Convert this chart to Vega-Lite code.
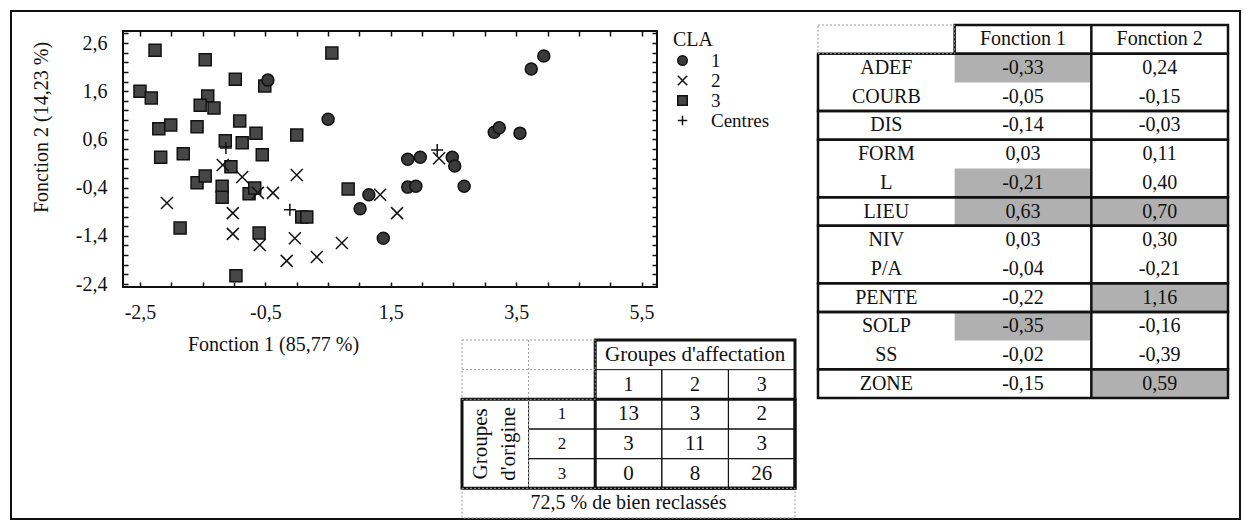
{
  "$schema": "https://vega.github.io/schema/vega-lite/v6.json",
  "width": 1229,
  "height": 508,
  "autosize": {"type": "none"},
  "padding": {"left": 11, "top": 11, "right": 6, "bottom": 6},
  "background": "white",
  "config": {
    "view": {"stroke": "#111", "strokeWidth": 2},
    "font": "Liberation Serif",
    "locale": {"number": {"decimal": ",", "thousands": " ", "grouping": [3], "currency": ["", " €"], "minus": "-"}},
    "axis": {"labelFont": "Liberation Serif", "titleFont": "Liberation Serif", "labelColor": "#111", "titleColor": "#111", "labelFontSize": 20, "titleFontSize": 20, "titleFontWeight": "normal", "grid": false, "domain": false, "tickColor": "#111", "tickWidth": 1.5, "tickSize": -5, "labelOverlap": false, "labelFlush": false},
    "legend": {"orient": "none", "legendX": 662, "legendY": 19, "padding": 0, "symbolSize": 90, "symbolStrokeColor": "#111", "symbolStrokeWidth": 1.5, "labelOffset": 19, "rowPadding": 0, "titlePadding": 1, "labelFontSize": 19, "titleFontSize": 20, "labelFont": "Liberation Serif", "titleFont": "Liberation Serif", "titleFontWeight": "normal", "labelColor": "#111", "titleColor": "#111"}
  },
  "datasets": {
    "points": [
      {"CLA": "3", "f1": -2.26, "f2": 2.45}, {"CLA": "3", "f1": -1.46, "f2": 2.25}, {"CLA": "3", "f1": 0.56, "f2": 2.39},
      {"CLA": "3", "f1": -0.98, "f2": 1.85}, {"CLA": "3", "f1": -0.51, "f2": 1.71}, {"CLA": "3", "f1": -2.5, "f2": 1.6},
      {"CLA": "3", "f1": -2.32, "f2": 1.46}, {"CLA": "3", "f1": -1.42, "f2": 1.5}, {"CLA": "3", "f1": -1.54, "f2": 1.31},
      {"CLA": "3", "f1": -1.32, "f2": 1.25}, {"CLA": "3", "f1": -2.2, "f2": 0.82}, {"CLA": "3", "f1": -2.01, "f2": 0.9},
      {"CLA": "3", "f1": -1.59, "f2": 0.86}, {"CLA": "3", "f1": -0.91, "f2": 0.98}, {"CLA": "3", "f1": -0.65, "f2": 0.73},
      {"CLA": "3", "f1": 0.0, "f2": 0.69}, {"CLA": "3", "f1": -1.14, "f2": 0.57}, {"CLA": "3", "f1": -0.87, "f2": 0.53},
      {"CLA": "3", "f1": -2.17, "f2": 0.23}, {"CLA": "3", "f1": -1.81, "f2": 0.3}, {"CLA": "3", "f1": -0.55, "f2": 0.28},
      {"CLA": "3", "f1": -1.05, "f2": 0.03}, {"CLA": "3", "f1": -1.59, "f2": -0.3}, {"CLA": "3", "f1": -1.46, "f2": -0.16},
      {"CLA": "3", "f1": -1.19, "f2": -0.37}, {"CLA": "3", "f1": -1.19, "f2": -0.6}, {"CLA": "3", "f1": -0.76, "f2": -0.53},
      {"CLA": "3", "f1": -0.67, "f2": -0.41}, {"CLA": "3", "f1": 0.08, "f2": -1.01}, {"CLA": "3", "f1": 0.16, "f2": -1.01},
      {"CLA": "3", "f1": -1.86, "f2": -1.24}, {"CLA": "3", "f1": -0.6, "f2": -1.34}, {"CLA": "3", "f1": 0.82, "f2": -0.43},
      {"CLA": "3", "f1": -0.97, "f2": -2.23},
      {"CLA": "2", "f1": -1.18, "f2": 0.07}, {"CLA": "2", "f1": -0.87, "f2": -0.18}, {"CLA": "2", "f1": 0.0, "f2": -0.14},
      {"CLA": "2", "f1": -0.62, "f2": -0.51}, {"CLA": "2", "f1": -0.38, "f2": -0.51}, {"CLA": "2", "f1": -2.07, "f2": -0.72},
      {"CLA": "2", "f1": -1.02, "f2": -0.93}, {"CLA": "2", "f1": -1.02, "f2": -1.36}, {"CLA": "2", "f1": -0.59, "f2": -1.59},
      {"CLA": "2", "f1": -0.03, "f2": -1.45}, {"CLA": "2", "f1": -0.16, "f2": -1.92}, {"CLA": "2", "f1": 0.32, "f2": -1.84},
      {"CLA": "2", "f1": 0.72, "f2": -1.55}, {"CLA": "2", "f1": 1.33, "f2": -0.55}, {"CLA": "2", "f1": 1.6, "f2": -0.93},
      {"CLA": "2", "f1": 2.27, "f2": 0.21},
      {"CLA": "1", "f1": -0.46, "f2": 1.83}, {"CLA": "1", "f1": 0.5, "f2": 1.02}, {"CLA": "1", "f1": 3.94, "f2": 2.33},
      {"CLA": "1", "f1": 3.74, "f2": 2.06}, {"CLA": "1", "f1": 3.15, "f2": 0.75}, {"CLA": "1", "f1": 3.23, "f2": 0.84},
      {"CLA": "1", "f1": 3.56, "f2": 0.73}, {"CLA": "1", "f1": 1.77, "f2": 0.19}, {"CLA": "1", "f1": 1.97, "f2": 0.23},
      {"CLA": "1", "f1": 2.48, "f2": 0.23}, {"CLA": "1", "f1": 2.52, "f2": 0.05}, {"CLA": "1", "f1": 1.15, "f2": -0.55},
      {"CLA": "1", "f1": 1.01, "f2": -0.84}, {"CLA": "1", "f1": 1.77, "f2": -0.39}, {"CLA": "1", "f1": 1.9, "f2": -0.37},
      {"CLA": "1", "f1": 2.67, "f2": -0.37}, {"CLA": "1", "f1": 1.38, "f2": -1.45},
      {"CLA": "Centres", "f1": 2.24, "f2": 0.38}, {"CLA": "Centres", "f1": -0.11, "f2": -0.86}, {"CLA": "Centres", "f1": -1.13, "f2": 0.42}
    ],
    "coef": [
      {"var": "ADEF", "fonction": "Fonction 1", "coef": -0.33, "marque": true}, {"var": "ADEF", "fonction": "Fonction 2", "coef": 0.24, "marque": false},
      {"var": "COURB", "fonction": "Fonction 1", "coef": -0.05, "marque": false}, {"var": "COURB", "fonction": "Fonction 2", "coef": -0.15, "marque": false},
      {"var": "DIS", "fonction": "Fonction 1", "coef": -0.14, "marque": false}, {"var": "DIS", "fonction": "Fonction 2", "coef": -0.03, "marque": false},
      {"var": "FORM", "fonction": "Fonction 1", "coef": 0.03, "marque": false}, {"var": "FORM", "fonction": "Fonction 2", "coef": 0.11, "marque": false},
      {"var": "L", "fonction": "Fonction 1", "coef": -0.21, "marque": true}, {"var": "L", "fonction": "Fonction 2", "coef": 0.4, "marque": false},
      {"var": "LIEU", "fonction": "Fonction 1", "coef": 0.63, "marque": true}, {"var": "LIEU", "fonction": "Fonction 2", "coef": 0.7, "marque": true},
      {"var": "NIV", "fonction": "Fonction 1", "coef": 0.03, "marque": false}, {"var": "NIV", "fonction": "Fonction 2", "coef": 0.3, "marque": false},
      {"var": "P/A", "fonction": "Fonction 1", "coef": -0.04, "marque": false}, {"var": "P/A", "fonction": "Fonction 2", "coef": -0.21, "marque": false},
      {"var": "PENTE", "fonction": "Fonction 1", "coef": -0.22, "marque": false}, {"var": "PENTE", "fonction": "Fonction 2", "coef": 1.16, "marque": true},
      {"var": "SOLP", "fonction": "Fonction 1", "coef": -0.35, "marque": true}, {"var": "SOLP", "fonction": "Fonction 2", "coef": -0.16, "marque": false},
      {"var": "SS", "fonction": "Fonction 1", "coef": -0.02, "marque": false}, {"var": "SS", "fonction": "Fonction 2", "coef": -0.39, "marque": false},
      {"var": "ZONE", "fonction": "Fonction 1", "coef": -0.15, "marque": false}, {"var": "ZONE", "fonction": "Fonction 2", "coef": 0.59, "marque": true}
    ],
    "blocs": [
      {"debut": "ADEF", "fin": "COURB"}, {"debut": "DIS", "fin": "DIS"}, {"debut": "FORM", "fin": "L"}, {"debut": "LIEU", "fin": "LIEU"},
      {"debut": "NIV", "fin": "P/A"}, {"debut": "PENTE", "fin": "PENTE"}, {"debut": "SOLP", "fin": "SS"}, {"debut": "ZONE", "fin": "ZONE"}
    ],
    "confusion": [
      {"origine": "1", "affectation": "1", "n": 13}, {"origine": "1", "affectation": "2", "n": 3}, {"origine": "1", "affectation": "3", "n": 2},
      {"origine": "2", "affectation": "1", "n": 3}, {"origine": "2", "affectation": "2", "n": 11}, {"origine": "2", "affectation": "3", "n": 3},
      {"origine": "3", "affectation": "1", "n": 0}, {"origine": "3", "affectation": "2", "n": 8}, {"origine": "3", "affectation": "3", "n": 26}
    ]
  },
  "layer": [
    {
      "data": {"name": "points"},
      "layer": [
        {
          "mark": {"type": "point", "filled": true, "opacity": 1, "size": 144, "strokeWidth": 1.5},
          "encoding": {
            "x": {"field": "f1", "type": "quantitative", "scale": {"domain": [-4.5574, 15.0439], "nice": false, "zero": false},
              "axis": {"orient": "bottom", "offset": -232, "values": [-2.5, -2, -1.5, -1, -0.5, 0, 0.5, 1, 1.5, 2, 2.5, 3, 3.5, 4, 4.5, 5, 5.5], "format": ".1f",
                "labelExpr": "indexof([-2.5, -0.5, 1.5, 3.5, 5.5], datum.value) >= 0 ? datum.label : ''", "labelPadding": 20,
                "title": "Fonction 1 (85,77 %)", "titleX": 262, "titleY": 57, "titleBaseline": "middle", "titleAlign": "center"}},
            "y": {"field": "f2", "type": "quantitative", "scale": {"domain": [-7.2755, 3.2639], "nice": false, "zero": false},
              "axis": {"orient": "left", "offset": -112, "values": [-2.4, -2.2, -2, -1.8, -1.6, -1.4, -1.2, -1, -0.8, -0.6, -0.4, -0.2, 0, 0.2, 0.4, 0.6, 0.8, 1, 1.2, 1.4, 1.6, 1.8, 2, 2.2, 2.4, 2.6, 2.8], "format": ".1f",
                "labelExpr": "indexof([-2.4, -1.4, -0.4, 0.6, 1.6, 2.6], datum.value) >= 0 ? datum.label : ''", "labelPadding": 21,
                "title": "Fonction 2 (14,23 %)", "titleX": -82, "titleY": 116, "titleAngle": 270, "titleBaseline": "middle", "titleAlign": "center"}},
            "shape": {"field": "CLA", "type": "nominal", "title": "CLA",
              "scale": {"domain": ["1", "2", "3", "Centres"], "range": ["circle", "M-1,-1L1,1M-1,1L1,-1", "square", "M0,-1L0,1M-1,0L1,0"]}},
            "fill": {"field": "CLA", "type": "nominal", "title": "CLA",
              "scale": {"domain": ["1", "2", "3", "Centres"], "range": ["#3a3a3a", "transparent", "#474747", "transparent"]}},
            "stroke": {"field": "CLA", "type": "nominal", "title": "CLA",
              "scale": {"domain": ["1", "2", "3", "Centres"], "range": ["#111", "#111", "#111", "#111"]}}
          }
        },
        {
          "data": {"values": [{}]},
          "mark": {"type": "rect", "fill": "transparent", "stroke": "#111", "strokeWidth": 2},
          "encoding": {
            "x": {"datum": -2.7711, "type": "quantitative", "scale": {"domain": [-4.5574, 15.0439], "nice": false, "zero": false},
              "axis": {"orient": "top", "offset": -20, "values": [-2.5, -2, -1.5, -1, -0.5, 0, 0.5, 1, 1.5, 2, 2.5, 3, 3.5, 4, 4.5, 5, 5.5], "labels": false, "title": null}},
            "x2": {"datum": 5.7456},
            "y": {"datum": -2.4622, "type": "quantitative", "scale": {"domain": [-7.2755, 3.2639], "nice": false, "zero": false},
              "axis": {"orient": "right", "offset": -583, "values": [-2.4, -2.2, -2, -1.8, -1.6, -1.4, -1.2, -1, -0.8, -0.6, -0.4, -0.2, 0, 0.2, 0.4, 0.6, 0.8, 1, 1.2, 1.4, 1.6, 1.8, 2, 2.2, 2.4, 2.6, 2.8], "labels": false, "title": null}},
            "y2": {"datum": 2.849}
          }
        }
      ],
      "resolve": {"axis": {"x": "independent", "y": "independent"}}
    },
    {
      "layer": [
        {
          "data": {"name": "coef"},
          "transform": [{"filter": "datum.marque"}],
          "mark": {"type": "rect", "fill": "#b0b0b0"},
          "encoding": {
            "x": {"field": "fonction", "type": "nominal", "axis": null, "scale": {"type": "band", "domain": ["Variable", "Fonction 1", "Fonction 2"], "range": [807, 1217], "paddingInner": 0, "paddingOuter": 0}},
            "y": {"field": "var", "type": "nominal", "axis": null, "scale": {"type": "band", "domain": ["Fonction", "ADEF", "COURB", "DIS", "FORM", "L", "LIEU", "NIV", "P/A", "PENTE", "SOLP", "SS", "ZONE"], "range": [14, 387], "paddingInner": 0, "paddingOuter": 0}}
          }
        },
        {
          "data": {"name": "coef"},
          "mark": {"type": "text", "font": "Liberation Serif", "fontSize": 20, "fill": "#111"},
          "encoding": {
            "x": {"field": "fonction", "type": "nominal", "axis": null},
            "y": {"field": "var", "type": "nominal", "axis": null},
            "text": {"field": "coef", "type": "quantitative", "format": ".2f"}
          }
        },
        {
          "data": {"name": "coef"},
          "transform": [{"aggregate": [{"op": "count", "as": "nb"}], "groupby": ["var"]}],
          "mark": {"type": "text", "font": "Liberation Serif", "fontSize": 20, "fill": "#111"},
          "encoding": {
            "x": {"datum": "Variable", "type": "nominal", "axis": null},
            "y": {"field": "var", "type": "nominal", "axis": null},
            "text": {"field": "var", "type": "nominal"}
          }
        },
        {
          "data": {"name": "coef"},
          "transform": [{"aggregate": [{"op": "count", "as": "nb"}], "groupby": ["fonction"]}],
          "mark": {"type": "text", "font": "Liberation Serif", "fontSize": 20, "fill": "#111"},
          "encoding": {
            "x": {"field": "fonction", "type": "nominal", "axis": null},
            "y": {"datum": "Fonction", "type": "nominal", "axis": null},
            "text": {"field": "fonction", "type": "nominal"}
          }
        },
        {
          "data": {"name": "blocs"},
          "mark": {"type": "rect", "fill": "transparent", "stroke": "#111", "strokeWidth": 2.5},
          "encoding": {
            "x": {"datum": "Variable", "type": "nominal", "bandPosition": 0, "axis": null},
            "x2": {"datum": "Fonction 2", "bandPosition": 1},
            "y": {"field": "debut", "type": "nominal", "bandPosition": 0, "axis": null},
            "y2": {"field": "fin", "bandPosition": 1}
          }
        },
        {
          "data": {"values": [{}]},
          "mark": {"type": "rule", "stroke": "#111", "strokeWidth": 2.5},
          "encoding": {
            "x": {"datum": "Fonction 2", "type": "nominal", "bandPosition": 0, "axis": null},
            "y": {"datum": "Fonction", "type": "nominal", "bandPosition": 0, "axis": null},
            "y2": {"datum": "ZONE", "bandPosition": 1}
          }
        },
        {
          "data": {"values": [{}]},
          "mark": {"type": "rect", "fill": "transparent", "stroke": "#111", "strokeWidth": 2.5},
          "encoding": {
            "x": {"datum": "Fonction 1", "type": "nominal", "bandPosition": 0, "axis": null},
            "x2": {"datum": "Fonction 2", "bandPosition": 1},
            "y": {"datum": "Fonction", "type": "nominal", "bandPosition": 0, "axis": null},
            "y2": {"datum": "Fonction", "bandPosition": 1}
          }
        },
        {
          "data": {"values": [{}]},
          "mark": {"type": "rect", "fill": "transparent", "stroke": "#999", "strokeWidth": 1, "strokeDash": [2, 2]},
          "encoding": {
            "x": {"datum": "Variable", "type": "nominal", "bandPosition": 0, "axis": null},
            "x2": {"datum": "Variable", "bandPosition": 1},
            "y": {"datum": "Fonction", "type": "nominal", "bandPosition": 0, "axis": null},
            "y2": {"datum": "Fonction", "bandPosition": 1}
          }
        }
      ]
    },
    {
      "layer": [
        {
          "data": {"name": "confusion"},
          "mark": {"type": "rect", "fill": "transparent", "stroke": "#111", "strokeWidth": 1},
          "encoding": {
            "x": {"field": "affectation", "type": "nominal", "axis": null, "scale": {"type": "band", "domain": ["lib", "origine", "1", "2", "3"], "range": [451, 784], "paddingInner": 0, "paddingOuter": 0}},
            "y": {"field": "origine", "type": "nominal", "axis": null, "scale": {"type": "band", "domain": ["titre", "num", "1", "2", "3", "total"], "range": [329, 507], "paddingInner": 0, "paddingOuter": 0}}
          }
        },
        {
          "data": {"name": "confusion"},
          "mark": {"type": "text", "font": "Liberation Serif", "fontSize": 21, "fill": "#111"},
          "encoding": {
            "x": {"field": "affectation", "type": "nominal", "axis": null},
            "y": {"field": "origine", "type": "nominal", "axis": null},
            "text": {"field": "n", "type": "quantitative"}
          }
        },
        {
          "data": {"name": "confusion"},
          "transform": [{"aggregate": [{"op": "count", "as": "nb"}], "groupby": ["affectation"]}],
          "mark": {"type": "rect", "fill": "transparent", "stroke": "#111", "strokeWidth": 1},
          "encoding": {
            "x": {"field": "affectation", "type": "nominal", "axis": null},
            "y": {"datum": "num", "type": "nominal", "axis": null}
          }
        },
        {
          "data": {"name": "confusion"},
          "transform": [{"aggregate": [{"op": "count", "as": "nb"}], "groupby": ["affectation"]}],
          "mark": {"type": "text", "font": "Liberation Serif", "fontSize": 20, "fill": "#111"},
          "encoding": {
            "x": {"field": "affectation", "type": "nominal", "axis": null},
            "y": {"datum": "num", "type": "nominal", "axis": null},
            "text": {"field": "affectation", "type": "nominal"}
          }
        },
        {
          "data": {"name": "confusion"},
          "transform": [{"aggregate": [{"op": "count", "as": "nb"}], "groupby": ["origine"]}],
          "mark": {"type": "rect", "fill": "transparent", "stroke": "#111", "strokeWidth": 1},
          "encoding": {
            "x": {"datum": "origine", "type": "nominal", "axis": null},
            "y": {"field": "origine", "type": "nominal", "axis": null}
          }
        },
        {
          "data": {"name": "confusion"},
          "transform": [{"aggregate": [{"op": "count", "as": "nb"}], "groupby": ["origine"]}],
          "mark": {"type": "text", "font": "Liberation Serif", "fontSize": 17, "fill": "#111"},
          "encoding": {
            "x": {"datum": "origine", "type": "nominal", "axis": null},
            "y": {"field": "origine", "type": "nominal", "axis": null},
            "text": {"field": "origine", "type": "nominal"}
          }
        },
        {
          "data": {"values": [{}]},
          "mark": {"type": "text", "font": "Liberation Serif", "fontSize": 21, "fill": "#111", "text": "Groupes d'affectation"},
          "encoding": {
            "x": {"datum": "2", "type": "nominal", "axis": null},
            "y": {"datum": "titre", "type": "nominal", "axis": null}
          }
        },
        {
          "data": {"values": [{}]},
          "mark": {"type": "text", "font": "Liberation Serif", "fontSize": 21, "fill": "#111", "angle": 270, "lineHeight": 28, "dy": -14, "text": ["Groupes", "d'origine"]},
          "encoding": {
            "x": {"datum": "lib", "type": "nominal", "axis": null},
            "y": {"datum": "2", "type": "nominal", "axis": null}
          }
        },
        {
          "data": {"values": [{}]},
          "mark": {"type": "text", "font": "Liberation Serif", "fontSize": 20, "fill": "#111", "text": "72,5 % de bien reclassés"},
          "encoding": {
            "x": {"datum": "1", "type": "nominal", "axis": null},
            "y": {"datum": "total", "type": "nominal", "axis": null}
          }
        },
        {
          "data": {"values": [{}]},
          "mark": {"type": "rect", "fill": "transparent", "stroke": "#111", "strokeWidth": 3},
          "encoding": {
            "x": {"datum": "1", "type": "nominal", "bandPosition": 0, "axis": null},
            "x2": {"datum": "3", "bandPosition": 1},
            "y": {"datum": "titre", "type": "nominal", "bandPosition": 0, "axis": null},
            "y2": {"datum": "3", "bandPosition": 1}
          }
        },
        {
          "data": {"values": [{}]},
          "mark": {"type": "rect", "fill": "transparent", "stroke": "#111", "strokeWidth": 3},
          "encoding": {
            "x": {"datum": "lib", "type": "nominal", "bandPosition": 0, "axis": null},
            "x2": {"datum": "3", "bandPosition": 1},
            "y": {"datum": "1", "type": "nominal", "bandPosition": 0, "axis": null},
            "y2": {"datum": "3", "bandPosition": 1}
          }
        },
        {
          "data": {"values": [{}]},
          "mark": {"type": "rect", "fill": "transparent", "stroke": "#999", "strokeWidth": 1, "strokeDash": [2, 2]},
          "encoding": {
            "x": {"datum": "lib", "type": "nominal", "bandPosition": 0, "axis": null},
            "x2": {"datum": "origine", "bandPosition": 1},
            "y": {"datum": "titre", "type": "nominal", "bandPosition": 0, "axis": null},
            "y2": {"datum": "num", "bandPosition": 1}
          }
        },
        {
          "data": {"values": [{}]},
          "mark": {"type": "rule", "stroke": "#999", "strokeWidth": 1, "strokeDash": [2, 2]},
          "encoding": {
            "x": {"datum": "origine", "type": "nominal", "bandPosition": 0, "axis": null},
            "y": {"datum": "titre", "type": "nominal", "bandPosition": 0, "axis": null},
            "y2": {"datum": "3", "bandPosition": 1}
          }
        },
        {
          "data": {"values": [{}]},
          "mark": {"type": "rule", "stroke": "#999", "strokeWidth": 1, "strokeDash": [2, 2]},
          "encoding": {
            "x": {"datum": "lib", "type": "nominal", "bandPosition": 0, "axis": null},
            "x2": {"datum": "origine", "bandPosition": 1},
            "y": {"datum": "num", "type": "nominal", "bandPosition": 0, "axis": null}
          }
        },
        {
          "data": {"values": [{}]},
          "mark": {"type": "rect", "fill": "transparent", "stroke": "#999", "strokeWidth": 1, "strokeDash": [2, 2]},
          "encoding": {
            "x": {"datum": "lib", "type": "nominal", "bandPosition": 0, "axis": null},
            "x2": {"datum": "3", "bandPosition": 1},
            "y": {"datum": "total", "type": "nominal", "bandPosition": 0, "axis": null},
            "y2": {"datum": "total", "bandPosition": 1}
          }
        }
      ]
    }
  ],
  "resolve": {"scale": {"x": "independent", "y": "independent"}}
}
